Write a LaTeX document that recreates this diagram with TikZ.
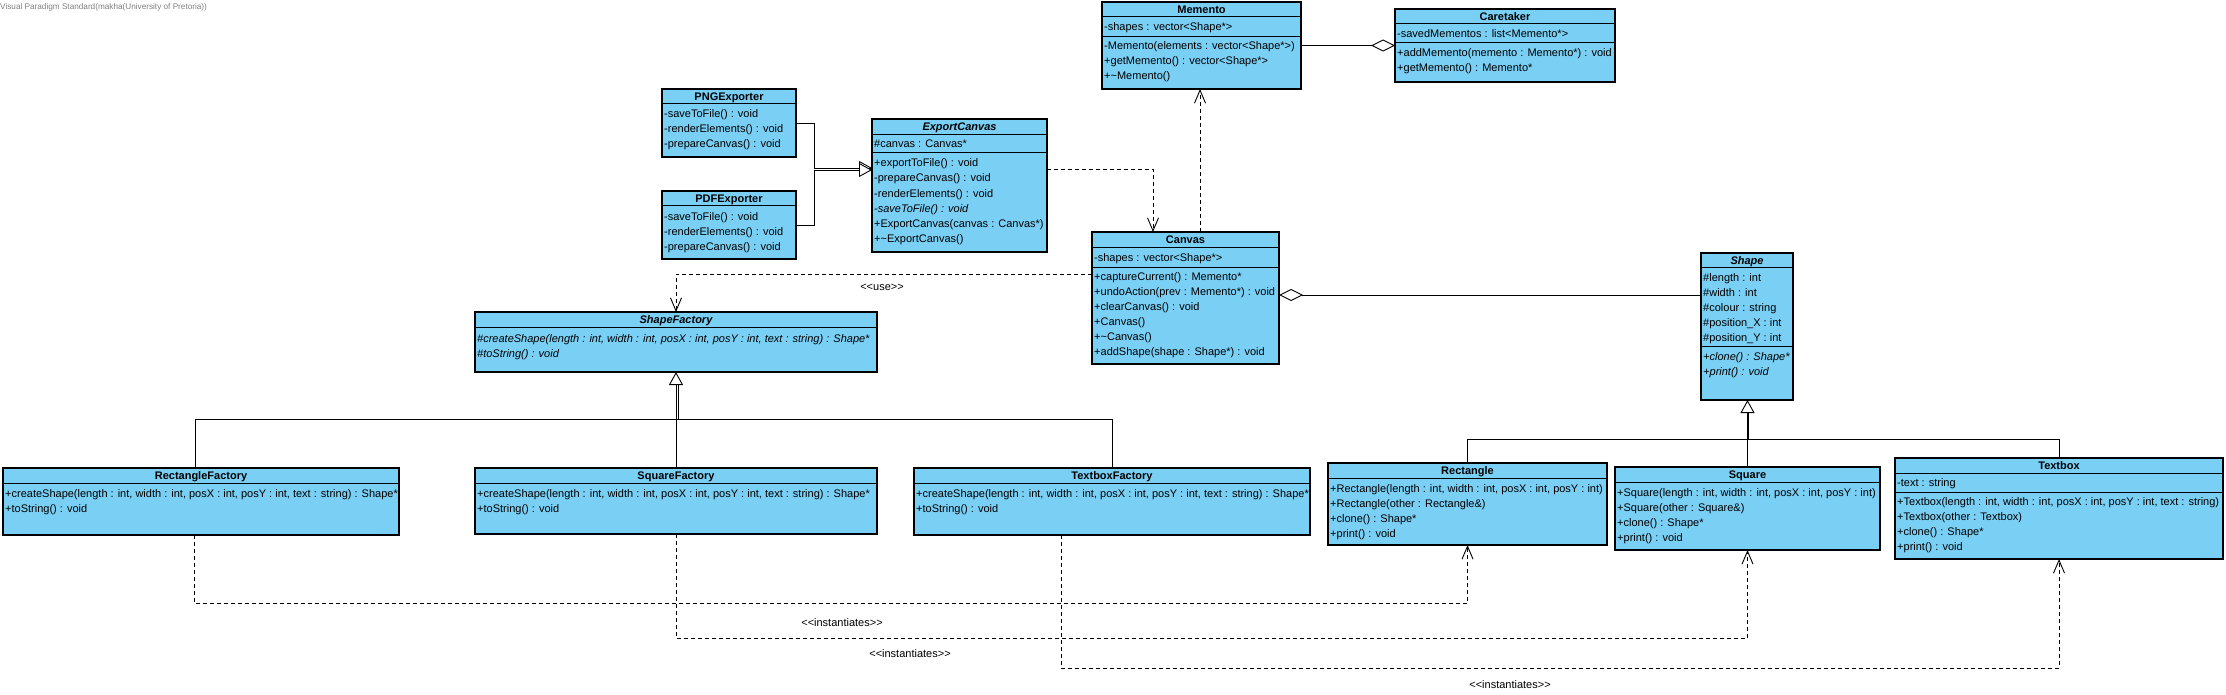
\documentclass[tikz,border=0pt]{standalone}
\usepackage{fontspec}
\newfontfamily\vpfont{Liberation Sans}
\usepackage{tikz}
\usetikzlibrary{arrows.meta,calc,positioning}
\definecolor{vpblue}{RGB}{122,207,245}
\definecolor{vpgrey}{RGB}{128,128,128}

\begin{document}
\begin{tikzpicture}[x=1pt,y=-1pt,
	cls/.style={draw=black,line width=1.2pt,fill=vpblue,anchor=north west,inner sep=0pt,outer sep=0pt},
	sep/.style={line width=1pt},
	ttl/.style={font=\vpfont\fontsize{11}{13}\selectfont\bfseries,anchor=base,inner sep=0pt},
	row/.style={font=\vpfont\fontsize{11}{13}\selectfont,anchor=base west,inner sep=0pt},
	lbl/.style={font=\vpfont\fontsize{11}{13}\selectfont,inner sep=0pt},
	gen/.style={line width=0.9pt,-{Triangle[length=13pt,width=14pt,fill=white]}},
	dep/.style={line width=0.9pt,dash pattern=on 4pt off 3pt,-{Straight Barb[length=13pt,width=11pt]}},
	agg/.style={line width=0.9pt,{Diamond[length=24pt,width=12pt,fill=white]}-}]
		\fill[white] (0,0) rectangle (2226,695);
		\node[anchor=west,font=\vpfont\fontsize{8.2}{10}\selectfont,text=vpgrey,inner sep=0pt] (wm) at (0,7) {Visual Paradigm Standard(makha(University of Pretoria))};
		
		% exporters
		\node[cls,minimum width=134pt,minimum height=68pt] (png) at (662,89) {};
		\draw[sep] (662,104) -- (796,104);
		\node[ttl] (png-t) at (729,100.5) {PNGExporter};
		\node[row] (png-1) at (664,118) {-saveToFile() : void};
		\node[row] (png-2) at (664,133) {-renderElements() : void};
		\node[row] (png-3) at (664,148) {-prepareCanvas() : void};
		
		\node[cls,minimum width=134pt,minimum height=68pt] (pdf) at (662,191) {};
		\draw[sep] (662,206) -- (796,206);
		\node[ttl] (pdf-t) at (729,202.5) {PDFExporter};
		\node[row] (pdf-1) at (664,220) {-saveToFile() : void};
		\node[row] (pdf-2) at (664,235) {-renderElements() : void};
		\node[row] (pdf-3) at (664,250) {-prepareCanvas() : void};
		
		\node[cls,minimum width=175pt,minimum height=133pt] (expc) at (872,119) {};
		\draw[sep] (872,135) -- (1047,135);
		\draw[sep] (872,153) -- (1047,153);
		\node[ttl] (expc-t) at (959.5,131) {\itshape ExportCanvas};
		\node[row] (expc-a) at (874,148) {\#canvas : Canvas*};
		\node[row] (expc-1) at (874,167) {+exportToFile() : void};
		\node[row] (expc-2) at (874,182) {-prepareCanvas() : void};
		\node[row] (expc-3) at (874,197) {-renderElements() : void};
		\node[row] (expc-4) at (874,212) {\itshape -saveToFile() : void};
		\node[row] (expc-5) at (874,227) {+ExportCanvas(canvas : Canvas*)};
		\node[row] (expc-6) at (874,242) {+\textasciitilde ExportCanvas()};
		
		% memento side
		\node[cls,minimum width=199pt,minimum height=87pt] (memento) at (1102,2) {};
		\draw[sep] (1102,17) -- (1301,17);
		\draw[sep] (1102,37) -- (1301,37);
		\node[ttl] (memento-t) at (1201.5,13.5) {Memento};
		\node[row] (memento-a) at (1104,31) {-shapes : vector<Shape*>};
		\node[row] (memento-1) at (1104,50) {-Memento(elements : vector<Shape*>)};
		\node[row] (memento-2) at (1104,65) {+getMemento() : vector<Shape*>};
		\node[row] (memento-3) at (1104,80) {+\textasciitilde Memento()};
		
		\node[cls,minimum width=220pt,minimum height=73pt] (caretaker) at (1395,9) {};
		\draw[sep] (1395,24) -- (1615,24);
		\draw[sep] (1395,43) -- (1615,43);
		\node[ttl] (caretaker-t) at (1505,20.5) {Caretaker};
		\node[row] (caretaker-a) at (1397,38) {-savedMementos : list<Memento*>};
		\node[row] (caretaker-1) at (1397,57) {+addMemento(memento : Memento*) : void};
		\node[row] (caretaker-2) at (1397,72) {+getMemento() : Memento*};
		
		\node[cls,minimum width=187pt,minimum height=132pt] (canvas) at (1092,232) {};
		\draw[sep] (1092,247) -- (1279,247);
		\draw[sep] (1092,267) -- (1279,267);
		\node[ttl] (canvas-t) at (1185.5,243.5) {Canvas};
		\node[row] (canvas-a) at (1094,261) {-shapes : vector<Shape*>};
		\node[row] (canvas-1) at (1094,280) {+captureCurrent() : Memento*};
		\node[row] (canvas-2) at (1094,295) {+undoAction(prev : Memento*) : void};
		\node[row] (canvas-3) at (1094,310) {+clearCanvas() : void};
		\node[row] (canvas-4) at (1094,325) {+Canvas()};
		\node[row] (canvas-5) at (1094,340) {+\textasciitilde Canvas()};
		\node[row] (canvas-6) at (1094,355) {+addShape(shape : Shape*) : void};
		
		% shapes
		\node[cls,minimum width=92pt,minimum height=147pt] (shape) at (1701,253) {};
		\draw[sep] (1701,267) -- (1793,267);
		\draw[sep] (1701,346) -- (1793,346);
		\node[ttl] (shape-t) at (1747,264) {\itshape Shape};
		\node[row] (shape-a1) at (1703,281) {\#length : int};
		\node[row] (shape-a2) at (1703,296) {\#width : int};
		\node[row] (shape-a3) at (1703,311) {\#colour : string};
		\node[row] (shape-a4) at (1703,326) {\#position\_X : int};
		\node[row] (shape-a5) at (1703,341) {\#position\_Y : int};
		\node[row] (shape-1) at (1703,360) {\itshape +clone() : Shape*};
		\node[row] (shape-2) at (1703,375) {\itshape +print() : void};
		
		\node[cls,minimum width=279pt,minimum height=82pt] (rect) at (1328,463) {};
		\draw[sep] (1328,478) -- (1607,478);
		\node[ttl] (rect-t) at (1467.5,474.5) {Rectangle};
		\node[row] (rect-1) at (1330,492) {+Rectangle(length : int, width : int, posX : int, posY : int)};
		\node[row] (rect-2) at (1330,507) {+Rectangle(other : Rectangle\&)};
		\node[row] (rect-3) at (1330,522) {+clone() : Shape*};
		\node[row] (rect-4) at (1330,537) {+print() : void};
		
		\node[cls,minimum width=265pt,minimum height=83pt] (square) at (1615,467) {};
		\draw[sep] (1615,482) -- (1880,482);
		\node[ttl] (square-t) at (1747.5,478.5) {Square};
		\node[row] (square-1) at (1617,496) {+Square(length : int, width : int, posX : int, posY : int)};
		\node[row] (square-2) at (1617,511) {+Square(other : Square\&)};
		\node[row] (square-3) at (1617,526) {+clone() : Shape*};
		\node[row] (square-4) at (1617,541) {+print() : void};
		
		\node[cls,minimum width=328pt,minimum height=101pt] (textbox) at (1895,458) {};
		\draw[sep] (1895,473) -- (2223,473);
		\draw[sep] (1895,492) -- (2223,492);
		\node[ttl] (textbox-t) at (2059,469.5) {Textbox};
		\node[row] (textbox-a) at (1897,486) {-text : string};
		\node[row] (textbox-1) at (1897,505) {+Textbox(length : int, width : int, posX : int, posY : int, text : string)};
		\node[row] (textbox-2) at (1897,520) {+Textbox(other : Textbox)};
		\node[row] (textbox-3) at (1897,535) {+clone() : Shape*};
		\node[row] (textbox-4) at (1897,550) {+print() : void};
		
		% factories
		\node[cls,minimum width=402pt,minimum height=60pt] (sfac) at (475,312) {};
		\draw[sep] (475,327) -- (877,327);
		\node[ttl] (sfac-t) at (676,323.5) {\itshape ShapeFactory};
		\node[row] (sfac-1) at (477,342) {\itshape \#createShape(length : int, width : int, posX : int, posY : int, text : string) : Shape*};
		\node[row] (sfac-2) at (477,357) {\itshape \#toString() : void};
		
		\node[cls,minimum width=396pt,minimum height=67pt] (rfac) at (3,468) {};
		\draw[sep] (3,483) -- (399,483);
		\node[ttl] (rfac-t) at (201,479.5) {RectangleFactory};
		\node[row] (rfac-1) at (5,497) {+createShape(length : int, width : int, posX : int, posY : int, text : string) : Shape*};
		\node[row] (rfac-2) at (5,512) {+toString() : void};
		
		\node[cls,minimum width=402pt,minimum height=66pt] (qfac) at (475,468) {};
		\draw[sep] (475,483) -- (877,483);
		\node[ttl] (qfac-t) at (676,479.5) {SquareFactory};
		\node[row] (qfac-1) at (477,497) {+createShape(length : int, width : int, posX : int, posY : int, text : string) : Shape*};
		\node[row] (qfac-2) at (477,512) {+toString() : void};
		
		\node[cls,minimum width=396pt,minimum height=67pt] (tfac) at (914,468) {};
		\draw[sep] (914,483) -- (1310,483);
		\node[ttl] (tfac-t) at (1112,479.5) {TextboxFactory};
		\node[row] (tfac-1) at (916,497) {+createShape(length : int, width : int, posX : int, posY : int, text : string) : Shape*};
		\node[row] (tfac-2) at (916,512) {+toString() : void};
		
		% connectors
		\draw[gen] (png.east) -- ++(18,0) |- ($(expc.north west)+(0,49)$);
		\draw[gen] (pdf.east) -- ++(18,0) |- ($(expc.north west)+(0,51)$);
		\draw[dep] ($(expc.north east)+(0,50)$) -| ($(canvas.north west)+(61,0)$);
		\coordinate (cm) at ($(canvas.north west)+(108,0)$);
		\draw[dep] (cm) -- (cm |- memento.south);
		\draw[agg] (caretaker.west) -- (caretaker.west -| memento.east);
		\coordinate (ca) at ($(canvas.north east)+(0,63)$);
		\draw[agg] (ca) -- (ca -| shape.west);
		\coordinate (cu) at ($(canvas.north west)+(0,42)$);
		\draw[dep] (cu) -| (sfac.north);
		\node[lbl] (use) at (882,287) {<<use>>};
		
		\coordinate (gf) at ($(sfac.south)+(0,47)$);
		\draw[gen] (qfac.north) -- (sfac.south);
		\draw[line width=0.9pt] ($(rfac.north)+(-6,0)$) |- ($(gf)+(2,0)$) -- ($(sfac.south)+(2,13)$);
		\draw[line width=0.9pt] (tfac.north) |- ($(gf)+(2,0)$);
		
		\coordinate (gs) at ($(shape.south)+(0,39)$);
		\draw[gen] (square.north) -- (square.north |- shape.south);
		\draw[line width=0.9pt] (rect.north) |- (gs) -- ($(shape.south)+(0,13)$);
		\draw[line width=0.9pt] (textbox.north) |- ($(gs)+(1.5,0)$) -- ($(shape.south)+(1.5,13)$);
		
		\draw[dep] ($(rfac.south)+(-7,0)$) -- ++(0,68) -| (rect.south);
		\draw[dep] (qfac.south) -- ++(0,104) -| (square.south);
		\draw[dep] ($(tfac.south)+(-51,0)$) -- ++(0,133) -| (textbox.south);
		\node[lbl] (inst1) at (842,623) {<<instantiates>>};
		\node[lbl] (inst2) at (910,654) {<<instantiates>>};
		\node[lbl] (inst3) at (1510,685) {<<instantiates>>};
	\end{tikzpicture}
\end{document}
